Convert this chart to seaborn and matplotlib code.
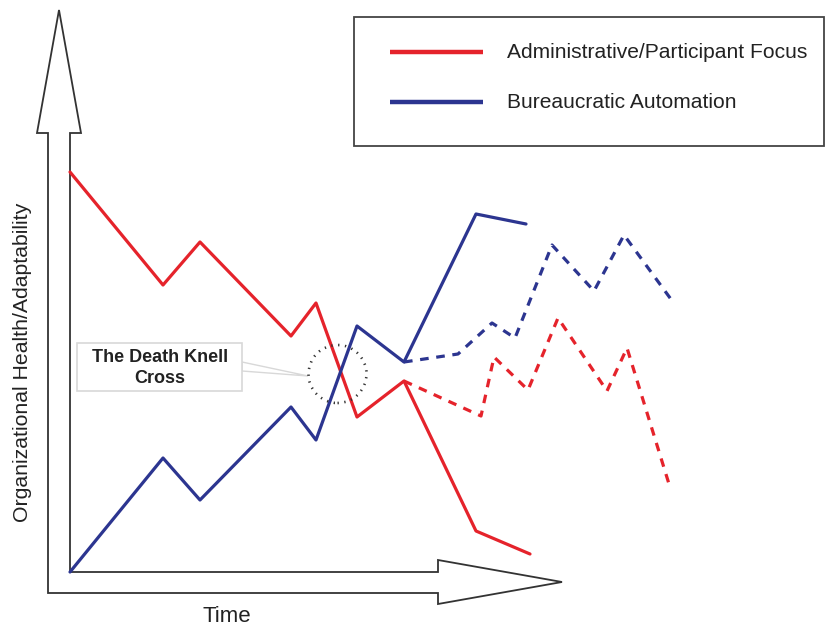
import numpy as np
import matplotlib.pyplot as plt
import seaborn as sns
from matplotlib.patches import Polygon, Rectangle, Circle

# Данні: час від початку осі, рівень "здоров'я" організації
red_t = [0, 93, 130, 221, 246, 287, 334, 406, 460]
red_y = [400, 287, 330, 236, 269, 155, 191, 41, 18]
blue_t = [0, 93, 130, 221, 246, 287, 334, 406, 456]
blue_y = [0, 114, 72, 165, 132, 246, 210, 358, 348]

# Прогноз (пунктир)
red_fc_t = [334, 411, 424, 458, 488, 537, 557, 599]
red_fc_y = [191, 156, 215, 182, 254, 181, 224, 88]
blue_fc_t = [334, 388, 422, 445, 482, 524, 554, 603]
blue_fc_y = [210, 218, 249, 234, 327, 281, 337, 270]

series_names = ["Administrative/Participant Focus", "Bureaucratic Automation"]
x_label = "Time"
y_label = "Organizational Health/Adaptability"
note_text = "The Death Knell\nCross"

RED = "#e5232b"
BLUE = "#2c3590"

sns.set_style("white")
plt.rcParams['font.family'] = ['Liberation Sans', 'DejaVu Sans']

fig = plt.figure(figsize=(8.26, 6.33), dpi=100)
ax = fig.add_axes([0, 0, 1, 1])
ax.set_xlim(-70, 756)
ax.set_ylim(-61, 572)
ax.axis('off')


def px(x, y):
    # піксельні координати картинки -> координати осей
    return (x - 70, 572 - y)


# Порожнисті стрілки осей (одна L-подібна фігура)
outline = [(70, 133), (81, 133), (59, 10), (37, 133), (48, 133), (48, 593),
           (438, 593), (438, 604), (562, 582), (438, 560), (438, 572), (70, 572)]
ax.add_patch(Polygon([px(*p) for p in outline], closed=True, facecolor='white',
                     edgecolor='#333333', lw=1.3, zorder=1))

lw = 2.3
dash = (0, (2.7, 2.4))
sns.lineplot(x=red_t, y=red_y, sort=False, color=RED, lw=lw, ax=ax, zorder=3)
sns.lineplot(x=blue_t, y=blue_y, sort=False, color=BLUE, lw=lw, ax=ax, zorder=3)
sns.lineplot(x=red_fc_t, y=red_fc_y, sort=False, color=RED, lw=lw,
             linestyle=dash, ax=ax, zorder=3)
sns.lineplot(x=blue_fc_t, y=blue_fc_y, sort=False, color=BLUE, lw=lw,
             linestyle=dash, ax=ax, zorder=3)

# Легенда
x0, y0 = px(354, 146)
x1, y1 = px(824, 17)
ax.add_patch(Rectangle((x0, y0), x1 - x0, y1 - y0, facecolor='white',
                       edgecolor='#444444', lw=1.3, zorder=4))
for name, col, yy in zip(series_names, [RED, BLUE], [52, 102]):
    a, b = px(390, yy)
    c, _ = px(483, yy)
    ax.plot([a, c], [b, b], color=col, lw=3.2, solid_capstyle='butt', zorder=5)
    tx, _ = px(507, yy)
    ax.text(tx, b, name, fontsize=15.1, color='#222222', va='center', ha='left', zorder=5)

# Підписи осей
ax.text(*px(227, 617), x_label, fontsize=16, color='#222222', ha='center', va='center')
ax.text(*px(23, 362), y_label, fontsize=15.3, color='#222222', ha='center', va='center',
        rotation=90)

# Виноска "The Death Knell Cross"
ax.add_patch(Polygon([px(242, 362), px(308, 376), px(242, 371)], closed=True,
                     facecolor='white', edgecolor='#d8d8d8', lw=1.0, zorder=2))
bx0, by0 = px(77, 391)
bx1, by1 = px(242, 343)
ax.add_patch(Rectangle((bx0, by0), bx1 - bx0, by1 - by0, facecolor='white',
                       edgecolor='#d8d8d8', lw=1.2, zorder=2))
ax.text(*px(160, 368), note_text, fontsize=13, fontweight='bold', color='#222222',
        ha='center', va='center', linespacing=1.3, zorder=3)
ax.add_patch(Circle(px(337.5, 374), 29, fill=False, edgecolor='#333333', lw=1.9,
                    linestyle=(0, (0.5, 2.1)), zorder=4))

fig.savefig('out.png', dpi=100)
